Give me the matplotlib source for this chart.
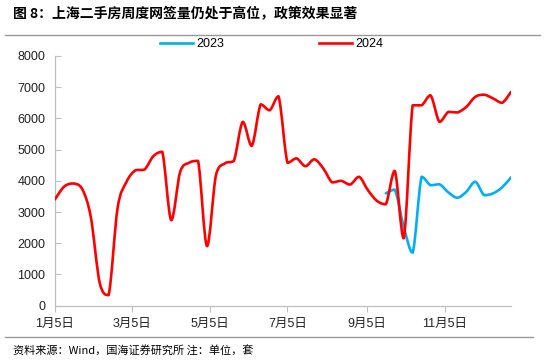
import matplotlib
matplotlib.use("Agg")
import matplotlib.pyplot as plt
import matplotlib.dates as mdates
from matplotlib.path import Path
from matplotlib.patches import PathPatch
from matplotlib.lines import Line2D
import numpy as np
import pandas as pd

plt.rcParams['font.family'] = ['Liberation Sans', 'Noto Sans CJK SC']

# ---------------- data ----------------
start_date = "2024-01-05"
n_weeks = 52
sales_2024 = [3410, 3810, 3915, 3760, 2850, 730, 340, 3130, 3970, 4340,
              4360, 4790, 4930, 2740, 4290, 4580, 4640, 1910, 4180, 4560,
              4640, 5890, 5120, 6450, 6260, 6710, 4580, 4720, 4470, 4690,
              4400, 3950, 4000, 3880, 4130, 3700, 3360, 3250, 4320, 2160,
              6420, 6420, 6740, 5890, 6210, 6190, 6370, 6690, 6760, 6640,
              6500, 6850]
sales_2023_start_week = 37
sales_2023 = [3600, 3720, 2530, 1700, 4130, 3860, 3890, 3630, 3460, 3650,
              3970, 3540, 3600, 3790, 4110]
tick_dates = ["2024-01-05", "2024-03-05", "2024-05-05", "2024-07-05",
              "2024-09-05", "2024-11-05"]
tick_labels = ["1月5日", "3月5日", "5月5日", "7月5日", "9月5日", "11月5日"]
y_ticks = [0, 1000, 2000, 3000, 4000, 5000, 6000, 7000, 8000]

weeks = pd.date_range(start_date, periods=n_weeks, freq="7D")
x_all = mdates.date2num(weeks.to_pydatetime())

RED = "#FF0000"
BLUE = "#00B0F0"
GRAY = "#BFBFBF"


def smooth_path(xs, ys):
    """Smoothed line rendering (Bezier through the data points, no overshoot)."""
    pts = np.column_stack([xs, ys]).astype(float)
    n = len(pts)
    verts = [tuple(pts[0])]
    codes = [Path.MOVETO]
    for i in range(n - 1):
        p0 = pts[i - 1] if i > 0 else pts[i]
        p1 = pts[i]
        p2 = pts[i + 1]
        p3 = pts[i + 2] if i + 2 < n else pts[i + 1]
        c1 = p1 + (p2 - p0) / 6.0
        c2 = p2 - (p3 - p1) / 6.0
        lo, hi = min(p1[1], p2[1]), max(p1[1], p2[1])
        c1[1] = np.clip(c1[1], lo, hi)
        c2[1] = np.clip(c2[1], lo, hi)
        verts += [tuple(c1), tuple(c2), tuple(p2)]
        codes += [Path.CURVE4] * 3
    return Path(verts, codes)


fig = plt.figure(figsize=(5.5, 3.64), dpi=100)
ax = fig.add_axes([55 / 550, 1 - 305.7 / 364, (511 - 55) / 550, (305.7 - 56) / 364])

n24 = len(sales_2024)
p24 = smooth_path(x_all[:n24], sales_2024)
ax.add_patch(PathPatch(p24, facecolor="none", edgecolor=RED, lw=1.9,
                       capstyle="round", joinstyle="round", zorder=3))
x23 = x_all[sales_2023_start_week:sales_2023_start_week + len(sales_2023)]
p23 = smooth_path(x23, sales_2023)
ax.add_patch(PathPatch(p23, facecolor="none", edgecolor=BLUE, lw=1.9,
                       capstyle="round", joinstyle="round", zorder=2))

ax.set_xlim(x_all[0], x_all[n_weeks - 1])
ax.set_ylim(0, 8000)
ax.set_yticks(y_ticks)
ax.set_yticklabels([str(v) for v in y_ticks])
ax.set_xticks(mdates.date2num(pd.to_datetime(tick_dates).to_pydatetime()))
ax.set_xticklabels(tick_labels)

for s in ["top", "right"]:
    ax.spines[s].set_visible(False)
for s in ["left", "bottom"]:
    ax.spines[s].set_color(GRAY)
    ax.spines[s].set_linewidth(0.9)
ax.tick_params(axis="y", direction="in", length=4, color=GRAY, labelsize=9,
               pad=7, labelcolor="#222222")
ax.tick_params(axis="x", direction="out", length=4, color=GRAY, labelsize=9,
               pad=5, labelcolor="#222222")

handles = [Line2D([], [], color=BLUE, lw=1.9), Line2D([], [], color=RED, lw=1.9)]
fig.legend(handles, ["2023", "2024"], loc="center", ncol=2,
           bbox_to_anchor=(272 / 550, 1 - 44 / 364), frameon=False,
           fontsize=9, handlelength=2.6, columnspacing=7.6, handletextpad=0.3)

fig.text(13 / 550, 1 - 14 / 364, "图 8：上海二手房周度网签量仍处于高位，政策效果显著",
         fontsize=10, fontweight="bold", va="center", ha="left",
         family=["Noto Sans CJK SC", "Liberation Sans"])
fig.add_artist(Line2D([5 / 550, 540 / 550], [1 - 35 / 364] * 2,
                      transform=fig.transFigure, color="#999999", lw=1.0))
fig.add_artist(Line2D([5 / 550, 533 / 550], [1 - 337 / 364] * 2,
                      transform=fig.transFigure, color="#999999", lw=1.0))
fig.text(13 / 550, 1 - 351 / 364, "资料来源：Wind，国海证券研究所 注：单位，套",
         fontsize=8, va="center", ha="left",
         family=["Noto Sans CJK SC", "Liberation Sans"])

fig.savefig("out.png", dpi=100)
